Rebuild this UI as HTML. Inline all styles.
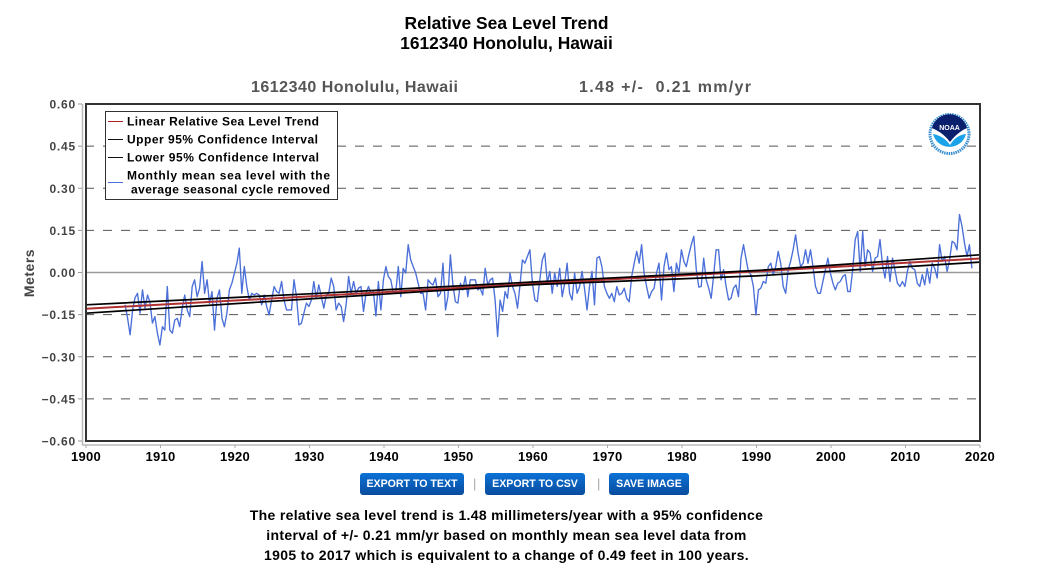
<!DOCTYPE html>
<html>
<head>
<meta charset="utf-8">
<title>Relative Sea Level Trend</title>
<style>
html,body{margin:0;padding:0;background:#fff;}
#page{position:relative;width:1056px;height:576px;overflow:hidden;font-family:"Liberation Sans",sans-serif;}
svg{position:absolute;left:0;top:0;}
.title{position:absolute;left:0;width:1013px;text-align:center;font-weight:bold;font-size:17.4px;color:#000;line-height:20px;}
.btn{position:absolute;top:473px;height:22px;line-height:22px;text-align:center;color:#fff;font-weight:bold;font-size:10.6px;border:0;padding:0;border-radius:3px;background:linear-gradient(#0b72d6,#0a4c9e);font-family:"Liberation Sans",sans-serif;}
.sep{position:absolute;top:476px;font-size:13px;color:#aaa;line-height:16px;}
.para{position:absolute;left:0;width:1013px;text-align:center;font-weight:bold;font-size:14px;line-height:20px;top:505px;color:#000;letter-spacing:0.32px;}
</style>
</head>
<body>
<div id="page">
<div class="title" style="top:13px">Relative Sea Level Trend</div>
<div class="title" style="top:33px">1612340 Honolulu, Hawaii</div>

<svg id="chart" width="1056" height="576" viewBox="0 0 1056 576">
  <text x="251" y="92" font-family="Liberation Sans" font-size="16" font-weight="bold" fill="#555" textLength="207">1612340 Honolulu, Hawaii</text>
  <text x="579" y="92" font-family="Liberation Sans" font-size="16" font-weight="bold" fill="#555" textLength="172" xml:space="preserve">1.48 +/-  0.21 mm/yr</text>
  <text transform="translate(34,273) rotate(-90)" text-anchor="middle" font-family="Liberation Sans" font-size="14" font-weight="bold" fill="#444" letter-spacing="0.5">Meters</text>
  <g id="axes"></g>
  <g id="marks"></g>
  <g id="legend">
    <rect x="105.500" y="111.500" width="232" height="88" fill="#fff" stroke="#333" stroke-width="1"/>
    <g font-family="Liberation Sans" font-size="12" font-weight="bold" fill="#000">
      <line x1="108" x2="123" y1="121.500" y2="121.500" stroke="#a82020" stroke-width="1"/>
      <text x="127" y="125.500" textLength="192">Linear Relative Sea Level Trend</text>
      <line x1="108" x2="123" y1="139.500" y2="139.500" stroke="#111" stroke-width="1"/>
      <text x="127" y="143.500" textLength="191">Upper 95% Confidence Interval</text>
      <line x1="108" x2="123" y1="157.500" y2="157.500" stroke="#111" stroke-width="1"/>
      <text x="127" y="161.500" textLength="192">Lower 95% Confidence Interval</text>
      <line x1="108" x2="123" y1="182.500" y2="182.500" stroke="#4a6fd8" stroke-width="1"/>
      <text x="127" y="179.500" textLength="203">Monthly mean sea level with the</text>
      <text x="131" y="193.500" textLength="199">average seasonal cycle removed</text>
    </g>
  </g>
  <g id="noaa-logo">
    <circle cx="949.500" cy="134" r="21" fill="#fff"/>
    <circle cx="949.500" cy="134" r="19.500" fill="none" stroke="#3a8fd0" stroke-width="3" stroke-dasharray="1.500 0.800"/>
    <path d="M932 128 A18 18 0 0 1 967 128 L963 130 Q955 135 950 142 Q944 134 936 130 Z" fill="#0a1f6e"/>
    <path d="M933 134 Q944 136 950 145 Q956 135 966 134 A17 17 0 0 1 933 134 Z" fill="#1aa3e8"/>
    <text x="949.500" y="130" text-anchor="middle" font-family="Liberation Sans" font-size="7" font-weight="bold" fill="#fff">NOAA</text>
  </g>
</svg>

<button class="btn" style="left:360px;width:104px">EXPORT TO TEXT</button>
<div class="sep" style="left:473px">|</div>
<button class="btn" style="left:485px;width:100px">EXPORT TO CSV</button>
<div class="sep" style="left:597px">|</div>
<button class="btn" style="left:609px;width:80px">SAVE IMAGE</button>

<div class="para">The relative sea level trend is 1.48 millimeters/year with a 95% confidence<br>interval of +/- 0.21 mm/yr based on monthly mean sea level data from<br>1905 to 2017 which is equivalent to a change of 0.49 feet in 100 years.</div>
</div>

<script>
const yTicks = [0.60, 0.45, 0.30, 0.15, 0.00, -0.15, -0.30, -0.45, -0.60];
const xTicks = [1900, 1910, 1920, 1930, 1940, 1950, 1960, 1970, 1980, 1990, 2000, 2010, 2020];
const trendYears = [1900, 1930, 1960, 1990, 2020];
const trendValues = [-0.129, -0.085, -0.040, 0.004, 0.050];
const upperValues = [-0.115, -0.076, -0.034, 0.007, 0.063];
const lowerValues = [-0.145, -0.094, -0.043, -0.012, 0.037];
const seriesStartYear = 1905.25;
const seriesStepYears = 1 / 3;
const seaLevelValues = [
-.115,-.163,-.222,-.133,-.09,-.074,-.145,-.062,-.127,-.08,-.104,-.18,-.157,-.216,-.258,-.193,-.205,-.05,-.205,-.216,
-.169,-.163,-.193,-.127,-.08,-.133,-.157,-.05,-.026,-.086,-.056,.039,-.074,-.026,-.11,-.068,-.205,-.092,-.062,-.163,
-.193,-.145,-.062,-.038,-.002,.033,.087,-.074,.021,-.05,-.098,-.074,-.08,-.074,-.08,-.115,-.08,-.121,-.151,-.098,
-.05,-.068,-.074,-.032,-.098,-.133,-.133,-.133,-.026,-.086,-.187,-.181,-.145,-.109,-.121,-.098,-.032,-.092,-.044,-.086,
-.127,-.08,-.074,-.02,-.05,-.133,-.109,-.121,-.175,-.115,-.014,-.074,-.032,-.074,-.056,-.05,-.139,-.074,-.05,-.074,
-.068,-.155,-.032,
-.133,-.026,.021,-.014,-.026,-.074,-.068,.021,-.086,.015,-.002,.099,.045,.021,-.002,-.038,-.074,-.074,-.133,-.026,
-.038,-.044,-.02,-.086,-.074,.033,-.133,-.086,.063,-.044,-.104,-.109,-.038,-.062,-.014,-.086,-.026,-.026,-.026,-.062,
-.056,-.08,.015,-.044,-.026,-.02,-.098,-.228,-.098,-.139,-.068,-.092,-.002,-.05,-.074,-.127,-.044,.045,.033,.057,
.081,-.038,-.098,-.104,-.026,.045,.069,-.038,.004,-.074,-.002,-.05,.015,-.086,-.038,.033,-.074,-.098,-.002,-.074,
-.05,.004,-.056,-.133,-.05,.004,-.115,.051,.057,.021,-.05,-.074,-.092,-.074,-.104,-.05,-.08,-.074,-.056,-.092,
-.104,-.014,.033,.075,.033,.099,-.002,-.05,-.092,-.068,-.056,-.002,.033,-.098,.021,.069,.01,.021,-.068,.033,
-.002,
.081,.039,.021,.063,.099,.129,.01,-.052,-.05,.051,-.026,-.056,-.092,-.008,.081,.081,-.026,.01,-.05,-.098,
-.092,-.056,-.044,-.086,.051,.099,.051,.004,-.008,-.05,-.151,-.062,-.056,-.032,-.038,.021,.033,-.008,.021,.075,
.033,-.05,-.074,.01,.039,.081,.134,.069,.021,.033,.081,.033,.081,.021,-.05,-.074,-.074,-.032,.01,.051,
-.002,-.038,-.062,-.038,-.032,-.014,-.008,-.068,-.068,.01,.117,.146,.004,.146,.021,.081,.069,.004,.051,.057,
.117,.027,-.02,.057,-.032,.051,.01,-.038,-.05,-.032,-.05,.004,.039,.015,.01,-.038,-.05,-.008,-.044,.015,
-.038,.033,.015,-.02,.099,.039,.057,.004,.045,.111,.105,.081,.206,.164,.105,.057,.099,.015
];

const PLOT_LEFT = 86, PLOT_RIGHT = 980, PLOT_TOP = 104, PLOT_BOTTOM = 441;
const SVG_NS = 'http://www.w3.org/2000/svg';
const xMin = xTicks[0], xMax = xTicks[xTicks.length - 1];
const yMax = yTicks[0], yMin = yTicks[yTicks.length - 1];
function xScale(year) { return PLOT_LEFT + (year - xMin) / (xMax - xMin) * (PLOT_RIGHT - PLOT_LEFT); }
function yScale(val) { return PLOT_TOP + (yMax - val) / (yMax - yMin) * (PLOT_BOTTOM - PLOT_TOP); }
function make(tag, attrs) {
  const el = document.createElementNS(SVG_NS, tag);
  for (const k in attrs) el.setAttribute(k, attrs[k]);
  return el;
}
const axes = document.getElementById('axes');
const marks = document.getElementById('marks');

const outerY = make('line', {x1: 82.5, x2: 82.5, y1: PLOT_TOP, y2: 445, stroke: '#bbb', 'stroke-width': 1.5});


axes.appendChild(outerY);
const outerX = make('line', {x1: 82, x2: PLOT_RIGHT, y1: 445, y2: 445, stroke: '#bbb', 'stroke-width': 1.5});


axes.appendChild(outerX);

yTicks.forEach(function (t) {
  const y = yScale(t);
  const tick = make('line', {x1: 78, x2: 82, y1: y, y2: y, stroke: '#999', 'stroke-width': 1});
  
  
  axes.appendChild(tick);
  const label = make('text', {x: 76, y: y + 4.5, 'text-anchor': 'end', 'font-family': 'Liberation Sans', 'font-size': 12, 'font-weight': 'bold', fill: '#444', 'letter-spacing': 0.8});
  
  
  label.textContent = (t < 0 ? '\u2212' : '') + Math.abs(t).toFixed(2);
  axes.appendChild(label);
  if (t === 0) {
    const zero = make('line', {x1: PLOT_LEFT, x2: PLOT_RIGHT, y1: y, y2: y, stroke: '#999', 'stroke-width': 1.5});
    
    
    axes.appendChild(zero);
  } else if (t !== yMax && t !== yMin) {
    const grid = make('line', {x1: PLOT_LEFT, x2: PLOT_RIGHT, y1: y, y2: y, stroke: '#555', 'stroke-width': 1, 'stroke-dasharray': '9 9', 'stroke-dashoffset': 1});
    
    
    axes.appendChild(grid);
  }
});

xTicks.forEach(function (t) {
  const x = xScale(t);
  const tick = make('line', {x1: x, x2: x, y1: 445, y2: 448, stroke: '#aaa', 'stroke-width': 1});
  
  
  axes.appendChild(tick);
  const label = make('text', {x: x, y: 461, 'text-anchor': 'middle', 'font-family': 'Liberation Sans', 'font-size': 13, 'font-weight': 'bold', fill: '#000', 'letter-spacing': 0.3});
  
  
  label.textContent = String(t);
  axes.appendChild(label);
});

const seriesPts = seaLevelValues.map(function (v, i) {
  return xScale(seriesStartYear + i * seriesStepYears).toFixed(1) + ',' + yScale(v).toFixed(1);
}).join(' ');
const seriesLine = make('polyline', {points: seriesPts, fill: 'none', stroke: '#4a6fd8', 'stroke-width': 1.35, 'stroke-linejoin': 'round'});


marks.appendChild(seriesLine);

function trendPoints(vals) {
  return vals.map(function (v, i) { return xScale(trendYears[i]).toFixed(1) + ',' + yScale(v).toFixed(1); }).join(' ');
}
const trendLine = make('polyline', {points: trendPoints(trendValues), fill: 'none', stroke: '#b03030', 'stroke-width': 2});


marks.appendChild(trendLine);
const upperLine = make('polyline', {points: trendPoints(upperValues), fill: 'none', stroke: '#000', 'stroke-width': 1.7});


marks.appendChild(upperLine);
const lowerLine = make('polyline', {points: trendPoints(lowerValues), fill: 'none', stroke: '#000', 'stroke-width': 1.7});


marks.appendChild(lowerLine);

const frame = make('rect', {x: PLOT_LEFT, y: PLOT_TOP, width: PLOT_RIGHT - PLOT_LEFT, height: PLOT_BOTTOM - PLOT_TOP, fill: 'none', stroke: '#333', 'stroke-width': 2});


marks.appendChild(frame);
</script>
</body>
</html>
